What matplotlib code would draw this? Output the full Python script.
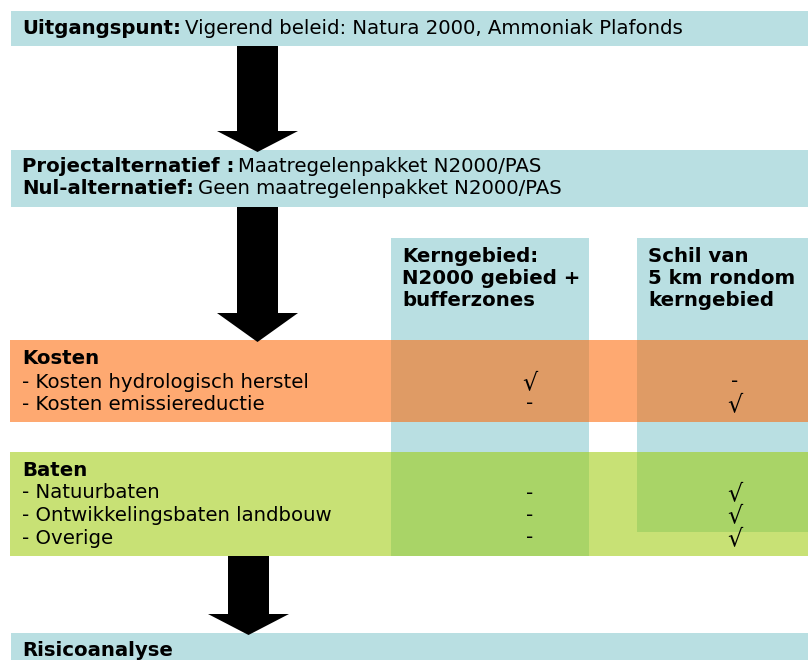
import matplotlib.pyplot as plt
from matplotlib.patches import Rectangle, Polygon

# content of the diagram
start_bold = "Uitgangspunt:"
start_text = "Vigerend beleid: Natura 2000, Ammoniak Plafonds"
alt_bold = ["Projectalternatief :", "Nul-alternatief:"]
alt_text = ["Maatregelenpakket N2000/PAS", "Geen maatregelenpakket N2000/PAS"]
col_headers = [["Kerngebied:", "N2000 gebied +", "bufferzones"],
               ["Schil van", "5 km rondom", "kerngebied"]]
kosten_items = ["Kosten hydrologisch herstel", "Kosten emissiereductie"]
kosten_kern = ["\u221a", "-"]
kosten_schil = ["-", "\u221a"]
baten_items = ["Natuurbaten", "Ontwikkelingsbaten landbouw", "Overige"]
baten_kern = ["-", "-", "-"]
baten_schil = ["\u221a", "\u221a", "\u221a"]
last_title = "Risicoanalyse"

BLUE = "#b9dfe2"
ORANGE = "#fea971"
ORANGE_DARK = "#df9b65"
GREEN = "#c8e175"
GREEN_DARK = "#a9d467"
FS = 14.2

W, H = 808, 660
fig = plt.figure(figsize=(W / 100, H / 100), dpi=100)
ax = fig.add_axes([0, 0, 1, 1])
ax.set_xlim(0, W)
ax.set_ylim(H, 0)
ax.axis("off")


def box(x0, y0, x1, y1, color, z=1):
    ax.add_patch(Rectangle((x0, y0), x1 - x0, y1 - y0, facecolor=color,
                           edgecolor="none", zorder=z))


def arrow(xc, y0, yh, y1, shaft_w, head_w):
    pts = [(xc - shaft_w / 2, y0), (xc + shaft_w / 2, y0), (xc + shaft_w / 2, yh),
           (xc + head_w / 2, yh), (xc, y1), (xc - head_w / 2, yh),
           (xc - shaft_w / 2, yh)]
    ax.add_patch(Polygon(pts, closed=True, facecolor="black", edgecolor="none", zorder=5))


def two_part(x, y, bold, rest):
    t = ax.text(x, y, bold, fontsize=FS, fontweight="bold", va="center", zorder=6)
    fig.canvas.draw()
    bb = t.get_window_extent()
    x1 = ax.transData.inverted().transform((bb.x1, bb.y0))[0]
    ax.text(x1 + 4, y, rest, fontsize=FS, va="center", zorder=6)


def mark(x, y, s):
    # the check sign is drawn a bit larger than the dash, as in the source
    size = FS + 3 if s == "\u221a" else FS
    ax.text(x, y, s, fontsize=size, va="center", ha="center", zorder=6)


# columns
cols = [(391, 589, 238, 556), (637, W, 238, 532)]
for x0, x1, y0, y1 in cols:
    box(x0, y0, x1, y1, BLUE, z=1)

# row boxes
box(11, 11, W, 46, BLUE)
box(11, 150, W, 207, BLUE)
kosten = (10, 340, W, 422)
baten = (10, 452, W, 556)
box(*kosten, ORANGE, z=2)
box(*baten, GREEN, z=2)
box(11, 633, W, H + 5, BLUE)

# overlaps of columns with rows
for (x0, x1, y0, y1) in cols:
    for (bx0, by0, bx1, by1), c in [(kosten, ORANGE_DARK), (baten, GREEN_DARK)]:
        oy0, oy1 = max(y0, by0), min(y1, by1)
        if oy1 > oy0:
            box(max(x0, bx0), oy0, min(x1, bx1), oy1, c, z=3)

# arrows
arrow(257.5, 46, 131, 152, 41, 81)
arrow(257.5, 207, 313, 342, 41, 81)
arrow(248.5, 556, 614, 635, 41, 81)

# texts
two_part(22, 28, start_bold, start_text)
two_part(22, 167, alt_bold[0], alt_text[0])
two_part(22, 189, alt_bold[1], alt_text[1])

for (x0, x1, y0, y1), hdr in zip(cols, col_headers):
    for j, line in enumerate(hdr):
        ax.text(x0 + 11, 256 + j * 22.5, line, fontsize=FS, fontweight="bold",
                va="center", zorder=6)

ax.text(22, 359, "Kosten", fontsize=FS, fontweight="bold", va="center", zorder=6)
for i, item in enumerate(kosten_items):
    y = 382 + i * 22
    ax.text(22, y, "- " + item, fontsize=FS, va="center", zorder=6)
    mark(530, y, kosten_kern[i])
    mark(735, y, kosten_schil[i])

ax.text(22, 470, "Baten", fontsize=FS, fontweight="bold", va="center", zorder=6)
for i, item in enumerate(baten_items):
    y = 493 + i * 22.5
    ax.text(22, y, "- " + item, fontsize=FS, va="center", zorder=6)
    mark(530, y, baten_kern[i])
    mark(735, y, baten_schil[i])

ax.text(22, 650, last_title, fontsize=FS, fontweight="bold", va="center", zorder=6)

fig.savefig("out.png", dpi=100)
